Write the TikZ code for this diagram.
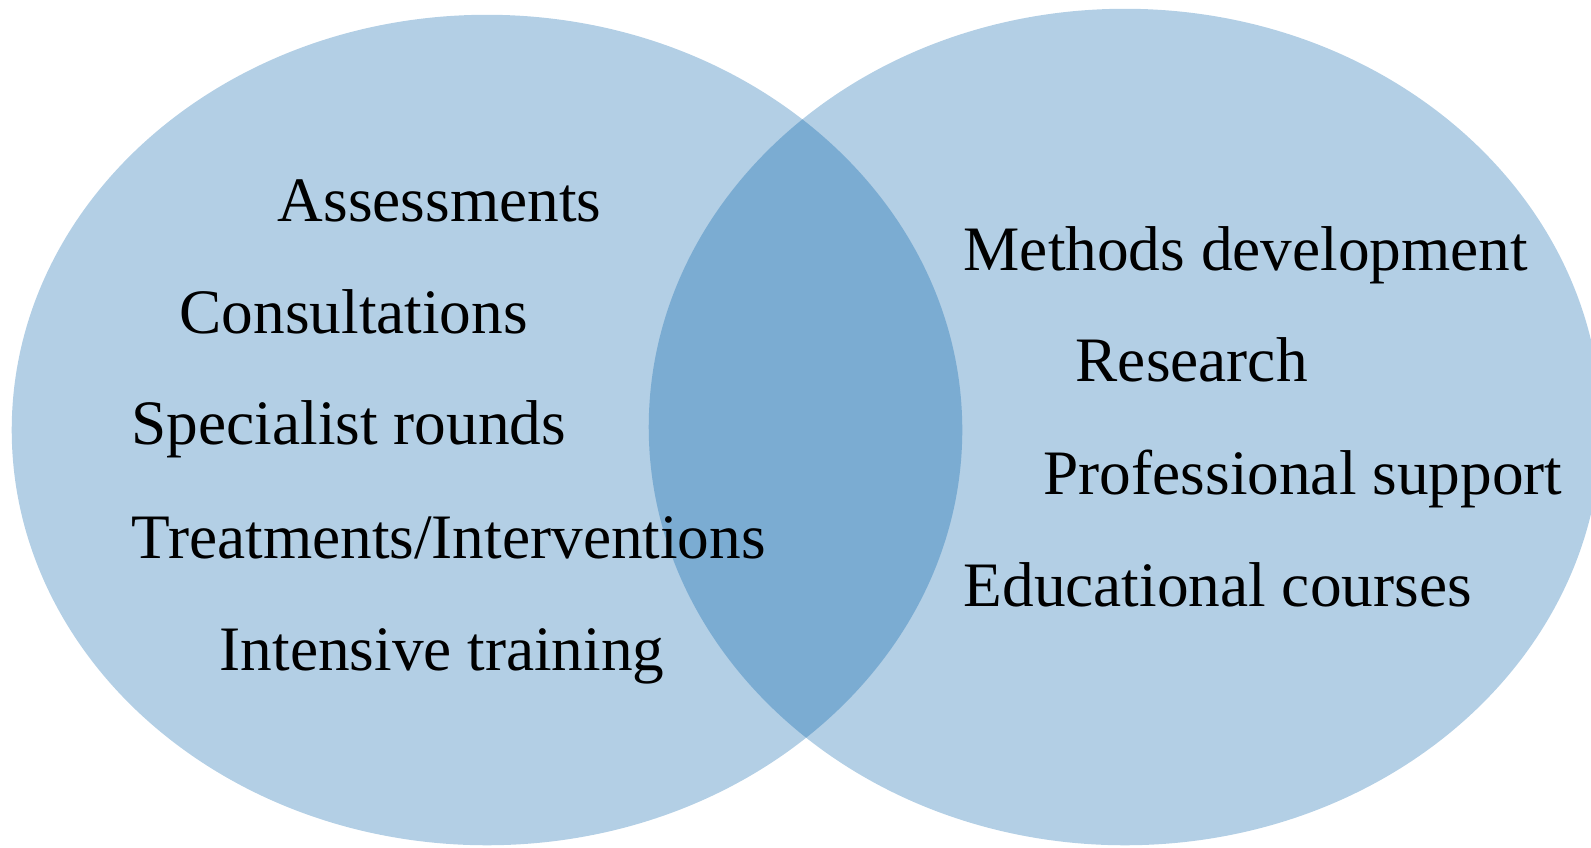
\documentclass[tikz,border=0pt]{standalone}
\usepackage{fontspec}
\setmainfont{Liberation Serif}
\usepackage{xcolor}
\usepackage{tikz}
\usetikzlibrary{positioning}
\definecolor{setblue}{HTML}{B3CFE5}
\definecolor{bothblue}{HTML}{7BACD2}
\tikzstyle{setfill}=[fill=setblue]
\tikzstyle{bothfill}=[fill=bothblue]
\tikzstyle{item}=[anchor=base west,inner sep=0pt,font=\fontsize{18}{22}\selectfont]

\begin{document}
\begin{tikzpicture}[x=0.01cm,y=-0.01cm]

 \useasboundingbox (0,0) rectangle (1591,847);

 %the two sets
 \coordinate (cl) at (487,430);
 \coordinate (cr) at (1125,427);
 \path[setfill] (cl) ellipse [x radius=4.75cm, y radius=4.15cm];
 \path[setfill] (cr) ellipse [x radius=4.76cm, y radius=4.18cm];

 %overlap
 \begin{scope}
  \clip (cl) ellipse [x radius=4.75cm, y radius=4.15cm];
  \path[bothfill] (cr) ellipse [x radius=4.76cm, y radius=4.18cm];
 \end{scope}

 %left set
   \foreach \x/\y/\name/\label in {277/221/assess/Assessments, 179/333/consult/Consultations,
          131/444/rounds/Specialist rounds, 131/558/treat/{Treatments/Interventions},
          219/670/train/Intensive training}
          \node[item] (\name) at (\x,\y) {\label};

 %right set
   \foreach \x/\y/\name/\label in {963/270/methods/Methods development, 1075/381/research/Research,
          1043/494/support/Professional support, 963/606/courses/Educational courses}
          \node[item] (\name) at (\x,\y) {\label};

\end{tikzpicture}
\end{document}
